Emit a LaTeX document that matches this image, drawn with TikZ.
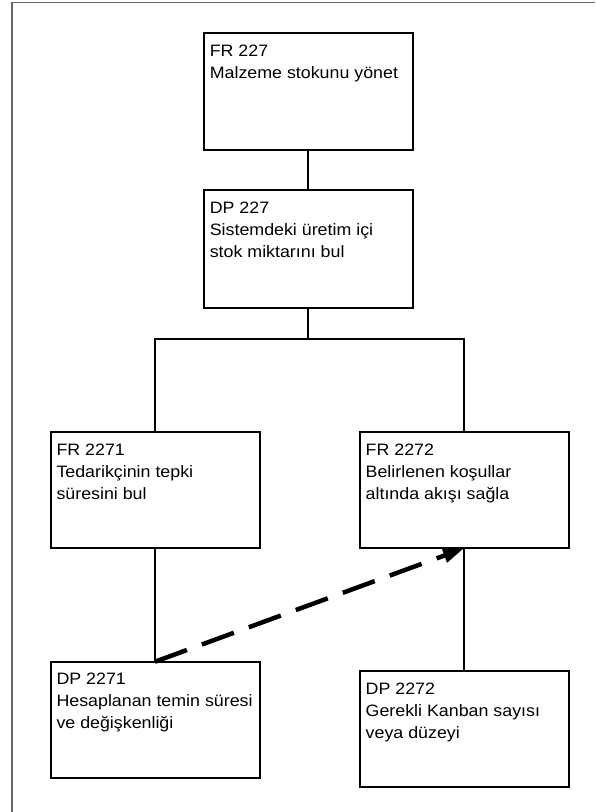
\documentclass[tikz,border=0pt]{standalone}
\usepackage{fontspec}
\setmainfont{Liberation Sans}[FakeStretch=1.08]
\usetikzlibrary{arrows.meta}
\newcommand\boxtext[3]{\parbox[c][#2][t]{#1}{\raggedright\vspace*{11.7pt}#3}}
\begin{document}
\begin{tikzpicture}[x=1pt,y=-1pt,
  blk/.style={draw, line width=2pt, inner xsep=6pt, inner ysep=0pt, outer sep=0pt,
    anchor=north west, font=\fontsize{16.5}{22}\selectfont},
  link/.style={line width=2pt},
  dep/.style={line width=4.5pt, dash pattern=on 34pt off 16pt,
    -{Triangle[length=21pt,width=14pt]}}]
\useasboundingbox (0,0) rectangle (595,812);
\fill[white] (0,0) rectangle (595,812);
% outer frame
\draw[black!60, line width=1.7pt] (12.3,812) -- (12.3,2.6) -- (595,2.6);
% blocks
\node[blk] (fr227)  at (203.8,33.3)  {\boxtext{197pt}{116.7pt}{FR 227\\Malzeme stokunu yönet}};
\node[blk] (dp227)  at (203.8,190.3) {\boxtext{197pt}{117.4pt}{DP 227\\Sistemdeki üretim içi\\stok miktarını bul}};
\node[blk] (fr2271) at (50.5,432)    {\boxtext{197pt}{116.3pt}{FR 2271\\Tedarikçinin tepki\\süresini bul}};
\node[blk] (fr2272) at (359.7,432)   {\boxtext{196.8pt}{116.3pt}{FR 2272\\Belirlenen koşullar\\altında akışı sağla}};
\node[blk] (dp2271) at (50.5,661.7)  {\boxtext{197pt}{116pt}{DP 2271\\Hesaplanan temin süresi\\ve değişkenliği}};
\node[blk] (dp2272) at (359.7,671)   {\boxtext{196.8pt}{115.7pt}{DP 2272\\Gerekli Kanban sayısı\\veya düzeyi}};
% hierarchy links
\coordinate (split) at (308.3,339.3);
\draw[link] (fr227.south) -- (dp227.north);
\draw[link] (dp227.south) -- (split);
\draw[link] (fr2271.north) |- (split) -| (fr2272.north);
\draw[link] (fr2271.south) -- (dp2271.north);
\draw[link] (fr2272.south) -- (dp2272.north);
% coupling
\draw[dep] (dp2271.north) -- (fr2272.south);
\end{tikzpicture}
\end{document}
